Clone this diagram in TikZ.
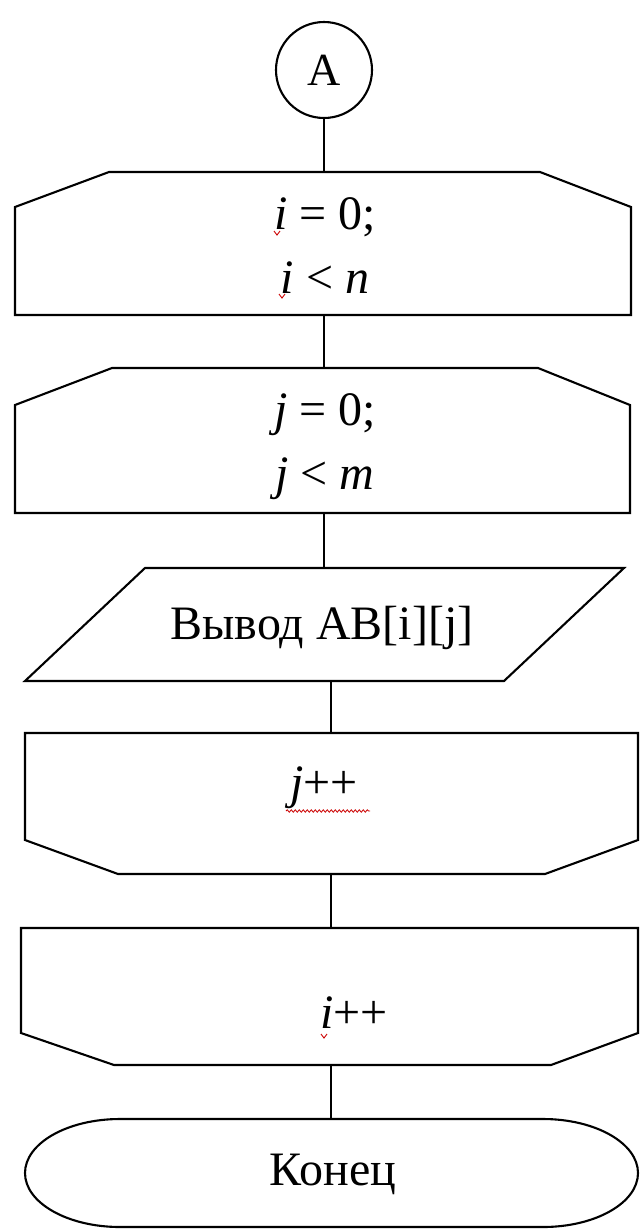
\documentclass[tikz,border=0pt]{standalone}
\usepackage{fontspec}
\setmainfont{Liberation Serif}
\usetikzlibrary{decorations.pathmorphing}
\tikzset{
  shapeline/.style={draw=black, line width=2.1pt, line join=miter, fill=white},
  conn/.style={draw=black, line width=2.1pt},
  txt/.style={inner sep=0pt, align=center, font=\fontsize{48}{64}\selectfont},
  squig/.style={draw=red!80!black, line width=0.8pt, decorate, decoration={snake, amplitude=1.2pt, segment length=4pt}},
  tick/.style={draw=red!80!black, line width=0.9pt}
}
\begin{document}
\begin{tikzpicture}[x=1pt,y=-1pt]
\useasboundingbox (0,0) rectangle (640,1229);
\fill[white] (0,0) rectangle (640,1229);

% connector A
\node[circle, shapeline, minimum size=96pt, inner sep=0pt, font=\fontsize{46}{50}\selectfont] (A) at (324,70) {A};

% loop start i
\draw[shapeline] (109,172) -- (540,172) -- (631,207) -- (631,315) -- (15,315) -- (15,207) -- cycle;
\coordinate (L1t) at (324,172);
\coordinate (L1b) at (324,315);
\node[txt] (T1) at (325,246) {\textit{i} = 0;\\\textit{i} < \textit{n}};

% loop start j
\draw[shapeline] (112,368) -- (538,368) -- (630,405) -- (630,513) -- (15,513) -- (15,405) -- cycle;
\coordinate (L2t) at (324,368);
\coordinate (L2b) at (324,513);
\node[txt] (T2) at (325,447) {\textit{j} = 0;\\\textit{j} < \textit{m}};

% output
\draw[shapeline] (145,568) -- (624,568) -- (504,681) -- (25,681) -- cycle;
\coordinate (Pt) at (324,568);
\coordinate (Pb) at (331,681);
\node[txt] (T3) at (322,628) {Вывод AB[i][j]};

% loop end j
\draw[shapeline] (25,733) -- (638,733) -- (638,840) -- (545,874) -- (118,874) -- (25,840) -- cycle;
\coordinate (E1t) at (331,733);
\coordinate (E1b) at (331,874);
\node[txt] (T4) at (324,788) {\textit{j}++};

% loop end i
\draw[shapeline] (21,928) -- (638,928) -- (638,1033) -- (551,1065) -- (114,1065) -- (21,1033) -- cycle;
\coordinate (E2t) at (331,928);
\coordinate (E2b) at (331,1065);
\node[txt] (T5) at (354,1013) {\textit{i}++};

% terminal
\draw[shapeline] (120,1119) -- (543,1119) arc[start angle=-90, end angle=90, x radius=95, y radius=54] -- (120,1227) arc[start angle=90, end angle=270, x radius=95, y radius=54] -- cycle;
\coordinate (Kt) at (331,1119);
\node[txt] (T6) at (333,1174) {Конец};

% connectors
\draw[conn] (A.south) -- (L1t);
\draw[conn] (L1b) -- (L2t);
\draw[conn] (L2b) -- (Pt);
\draw[conn] (Pb) -- (E1t);
\draw[conn] (E1b) -- (E2t);
\draw[conn] (E2b) -- (Kt);

% spell-check marks
\draw[tick] (274,231) -- (277,235) -- (280,231);
\draw[tick] (279,294) -- (282,298) -- (285,294);
\draw[squig] (286,811) -- (370,811);
\draw[tick] (321,1034) -- (324,1038) -- (327,1034);
\end{tikzpicture}
\end{document}
